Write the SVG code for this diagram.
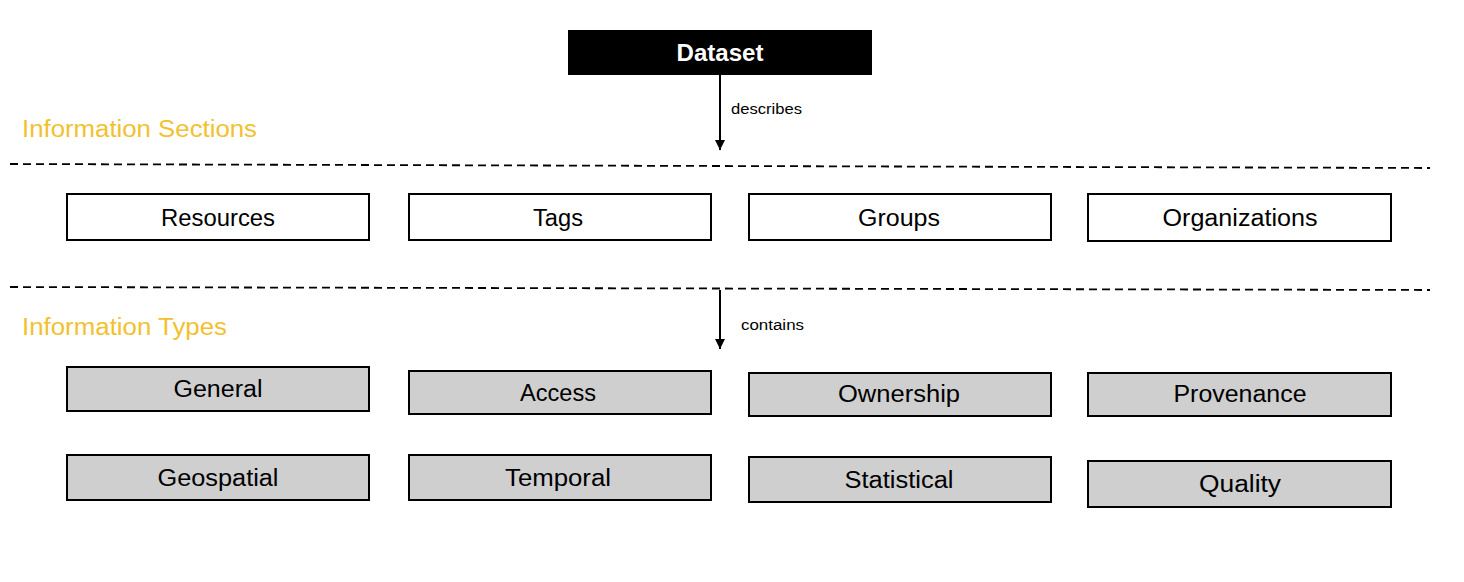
<svg xmlns="http://www.w3.org/2000/svg" width="1464" height="582" viewBox="0 0 1464 582">
<style>
.box{stroke:#000;stroke-width:2}
.w{fill:#fff}
.g{fill:#cfcfcf}
.t{font-family:"Liberation Sans",Arial,sans-serif;font-size:23px;fill:#000;text-anchor:middle}
.hdr{font-family:"Liberation Sans",Arial,sans-serif;font-size:23px;fill:#f2c12e}
.lbl{font-family:"Liberation Sans",Arial,sans-serif;font-size:14px;fill:#000}
.dash{stroke:#000;stroke-width:1.8;stroke-dasharray:8 5;fill:none}
.conn{stroke:#000;stroke-width:2;fill:none}
</style>
<defs>
<marker id="arr" viewBox="0 0 10 10" refX="10" refY="5" markerWidth="5" markerHeight="5" orient="auto" markerUnits="strokeWidth">
<path d="M0,0 L10,5 L0,10 z" fill="#000"/>
</marker>
</defs>
<rect width="1464" height="582" fill="#fff"/>
<text class="hdr" x="22" y="137" textLength="235" lengthAdjust="spacingAndGlyphs">Information Sections</text>
<text class="hdr" x="22" y="335" textLength="205" lengthAdjust="spacingAndGlyphs">Information Types</text>
<line class="dash" x1="10" y1="164" x2="1430" y2="168"/>
<line class="dash" x1="10" y1="287" x2="1430" y2="290"/>
<g id="connectors">
<line class="conn" x1="720" y1="75" x2="720" y2="150" marker-end="url(#arr)"/>
<text class="lbl" x="731" y="114" textLength="71" lengthAdjust="spacingAndGlyphs">describes</text>
<line class="conn" x1="720" y1="290" x2="720" y2="349" marker-end="url(#arr)"/>
<text class="lbl" x="741" y="330" textLength="63" lengthAdjust="spacingAndGlyphs">contains</text>
</g>
<g id="dataset"><rect x="568" y="30" width="304" height="45" fill="#000"/><text class="t" x="720" y="61" style="fill:#fff;font-weight:bold" textLength="87" lengthAdjust="spacingAndGlyphs">Dataset</text></g>
<g id="resources"><rect class="box w" x="67" y="194" width="302" height="46"/><text class="t" x="218" y="226" textLength="114" lengthAdjust="spacingAndGlyphs">Resources</text></g>
<g id="tags"><rect class="box w" x="409" y="194" width="302" height="46"/><text class="t" x="558" y="226" textLength="50" lengthAdjust="spacingAndGlyphs">Tags</text></g>
<g id="groups"><rect class="box w" x="749" y="194" width="302" height="46"/><text class="t" x="899" y="226" textLength="82" lengthAdjust="spacingAndGlyphs">Groups</text></g>
<g id="organizations"><rect class="box w" x="1088" y="194" width="303" height="47"/><text class="t" x="1240" y="226" textLength="155" lengthAdjust="spacingAndGlyphs">Organizations</text></g>
<g id="general"><rect class="box g" x="67" y="367" width="302" height="44"/><text class="t" x="218" y="397" textLength="89" lengthAdjust="spacingAndGlyphs">General</text></g>
<g id="access"><rect class="box g" x="409" y="371" width="302" height="43"/><text class="t" x="558" y="401" textLength="76" lengthAdjust="spacingAndGlyphs">Access</text></g>
<g id="ownership"><rect class="box g" x="749" y="373" width="302" height="43"/><text class="t" x="899" y="402" textLength="122" lengthAdjust="spacingAndGlyphs">Ownership</text></g>
<g id="provenance"><rect class="box g" x="1088" y="373" width="303" height="43"/><text class="t" x="1240" y="402" textLength="133" lengthAdjust="spacingAndGlyphs">Provenance</text></g>
<g id="geospatial"><rect class="box g" x="67" y="455" width="302" height="45"/><text class="t" x="218" y="486" textLength="121" lengthAdjust="spacingAndGlyphs">Geospatial</text></g>
<g id="temporal"><rect class="box g" x="409" y="455" width="302" height="45"/><text class="t" x="558" y="486" textLength="106" lengthAdjust="spacingAndGlyphs">Temporal</text></g>
<g id="statistical"><rect class="box g" x="749" y="457" width="302" height="45"/><text class="t" x="899" y="488" textLength="109" lengthAdjust="spacingAndGlyphs">Statistical</text></g>
<g id="quality"><rect class="box g" x="1088" y="461" width="303" height="46"/><text class="t" x="1240" y="492" textLength="82" lengthAdjust="spacingAndGlyphs">Quality</text></g>
</svg>
